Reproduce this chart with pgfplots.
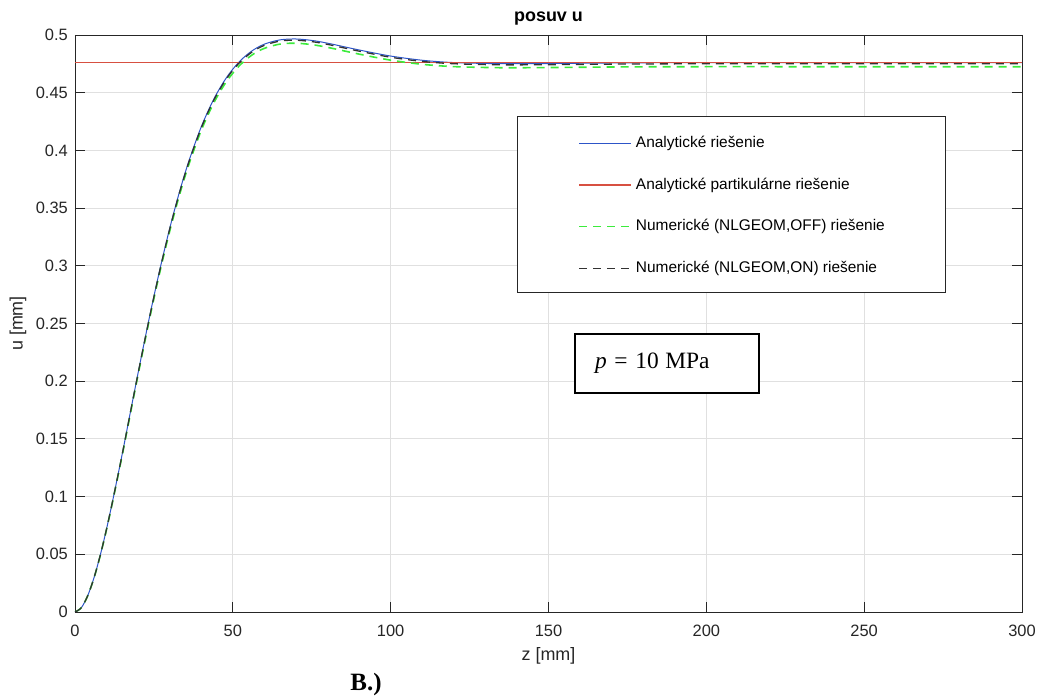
\documentclass[border=0pt]{standalone}
\usepackage{fontspec}
\setmainfont{Liberation Sans}
\newfontfamily\serif{Liberation Serif}
\usepackage{pgfplots}
\pgfplotsset{compat=1.18}
\usepackage{pgfplotstable}
\definecolor{axgray}{RGB}{38,38,38}
\definecolor{gridgray}{RGB}{224,224,224}
\definecolor{cblue}{RGB}{45,85,200}
\definecolor{cred}{RGB}{215,80,65}
\definecolor{cgreen}{RGB}{60,235,60}
\definecolor{cblack}{RGB}{50,50,50}

\pgfplotstableread{
z    blue     green    black
0    0.00000  0.00000  0.00000
2    0.00371  0.00368  0.00370
4    0.01396  0.01386  0.01393
6    0.02950  0.02928  0.02943
8    0.04920  0.04884  0.04910
10   0.07209  0.07156  0.07194
12   0.09734  0.09662  0.09714
15   0.13742  0.13641  0.13713
18   0.17956  0.17824  0.17918
21   0.22101  0.21939  0.22055
24   0.26086  0.25895  0.26032
27   0.29819  0.29600  0.29756
30   0.33238  0.32994  0.33168
33   0.36307  0.36040  0.36231
36   0.39010  0.38723  0.38928
40   0.42046  0.41737  0.41958
44   0.44462  0.44135  0.44369
48   0.46314  0.45973  0.46217
52   0.47672  0.47321  0.47572
56   0.48611  0.48254  0.48509
60   0.49208  0.48846  0.49104
65   0.49580  0.49216  0.49476
70   0.49653  0.49288  0.49548
75   0.49530  0.49166  0.49426
80   0.49292  0.48930  0.49189
90   0.48702  0.48344  0.48600
100  0.48175  0.47820  0.48073
110  0.47811  0.47460  0.47711
120  0.47610  0.47260  0.47510
135  0.47513  0.47164  0.47413
150  0.47529  0.47180  0.47429
175  0.47585  0.47236  0.47485
200  0.47603  0.47253  0.47503
250  0.47600  0.47250  0.47500
300  0.47600  0.47250  0.47500
}\datatab

\begin{document}
\begin{tikzpicture}
\path[use as bounding box] (-75bp,-87bp) rectangle (964bp,612bp);
\begin{axis}[
  at={(0,0)}, anchor=south west,
  scale only axis, width=947bp, height=577bp,
  xmin=0, xmax=300, ymin=0, ymax=0.5,
  xtick={0,50,100,150,200,250,300},
  ytick={0,0.05,0.1,0.15,0.2,0.25,0.3,0.35,0.4,0.45,0.5},
  scaled ticks=false,
  /pgf/number format/assume math mode=true,
  yticklabel style={/pgf/number format/fixed,/pgf/number format/precision=2, inner sep=0pt, xshift=-7bp},
  xticklabel style={inner sep=0pt, yshift=-13bp},
  ticklabel style={font=\fontsize{16.5}{19}\selectfont, text=axgray},
  tick align=inside, major tick length=10bp,
  tick style={axgray, line width=0.8bp},
  axis line style={axgray, line width=0.8bp},
  grid=major, major grid style={gridgray, line width=0.8bp},
  title={posuv u},
  title style={font=\bfseries\fontsize{18}{21}\selectfont, at={(axis description cs:0.5,1.01386)}, anchor=base, inner sep=0pt},
  xlabel={z [mm]},
  xlabel style={font=\fontsize{18}{21}\selectfont, text=axgray, at={(axis description cs:0.5,-0.0849)}, anchor=base, inner sep=0pt},
  ylabel={u [mm]},
  ylabel style={font=\fontsize{18}{21}\selectfont, text=axgray, at={(axis description cs:-0.0602,0.5)}, anchor=center, inner sep=0pt},
  legend image code/.code={\draw[#1] (0bp,4.2bp) -- (52bp,4.2bp);},
  legend style={at={(axis description cs:0.4667,0.8596)}, anchor=north west,
    draw=axgray, line width=0.8bp, fill=white,
    inner xsep=61bp, inner ysep=18bp, row sep=26.7bp, column sep=4bp,
    font=\fontsize{15.5}{18}\selectfont,
    cells={anchor=base west},
    nodes={inner sep=0pt, text height=13bp, text depth=2bp, text=black}},
]
\addplot[cblue, line width=1bp, smooth] table[x=z, y=blue] {\datatab};
\addlegendentry{Analytické riešenie}
\addplot[cred, line width=1.2bp] coordinates {(0,0.476) (300,0.476)};
\addlegendentry{Analytické partikulárne riešenie}
\addplot[cgreen, line width=1.6bp, dash pattern=on 8bp off 6bp, smooth] table[x=z, y=green] {\datatab};
\addlegendentry{Numerické (NLGEOM,OFF) riešenie}
\addplot[cblack, line width=1.3bp, dash pattern=on 8bp off 6bp, smooth] table[x=z, y=black] {\datatab};
\addlegendentry{Numerické (NLGEOM,ON) riešenie}
\end{axis}
\node[draw=black, line width=1.3bp, fill=white, minimum width=184bp, minimum height=59bp,
      text width=144bp, inner xsep=20bp, inner ysep=0pt, align=left,
      font=\serif\fontsize{23.5}{26}\selectfont] at (592bp,248.5bp) {\textit{p}\hspace{0.33em}=\hspace{0.33em}10\hspace{0.28em}MPa};
\node[font=\serif\bfseries\fontsize{25}{28}\selectfont] at (291bp,-73bp) {B.)};
\end{tikzpicture}
\end{document}
